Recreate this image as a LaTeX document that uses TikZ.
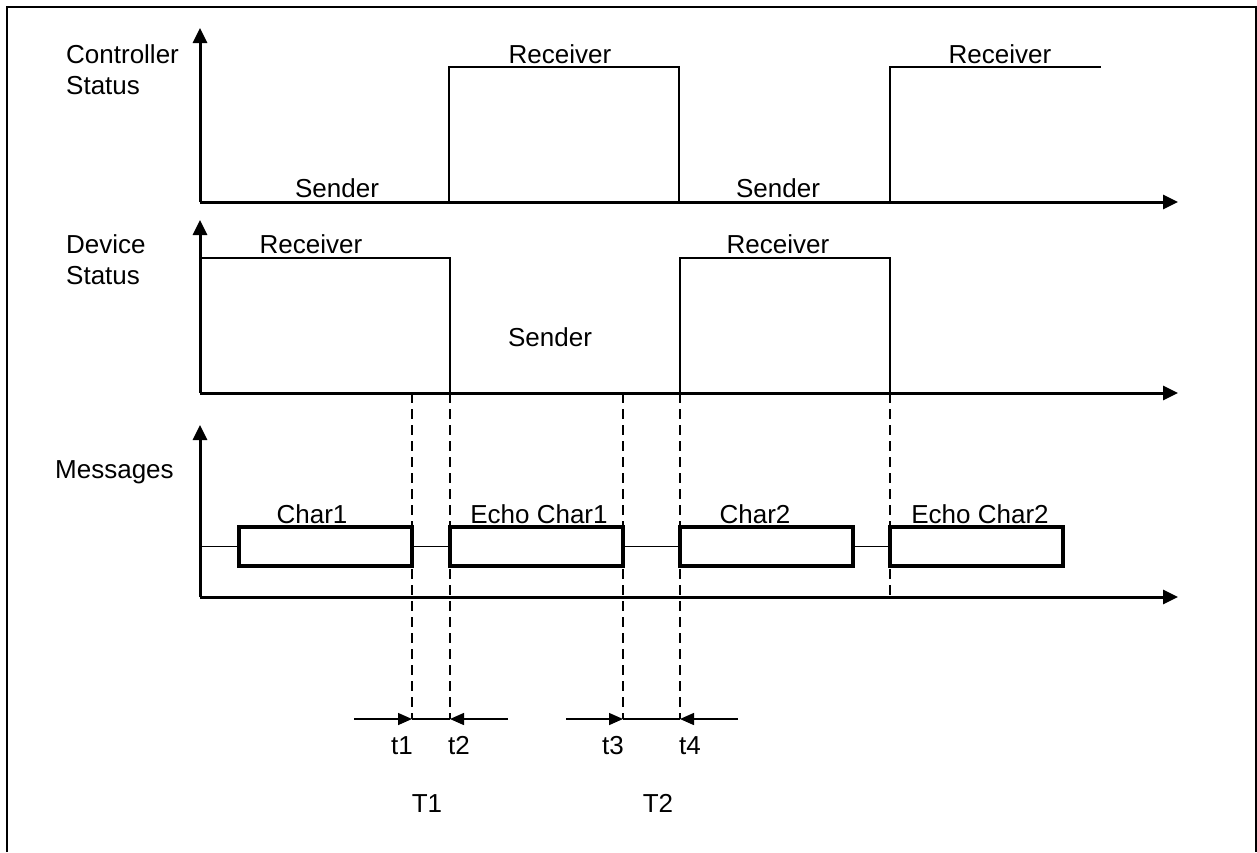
\documentclass[tikz,border=0pt]{standalone}
\usepackage{fontspec}
\setmainfont{Liberation Sans}
\usetikzlibrary{arrows.meta}
\begin{document}
\begin{tikzpicture}[x=1pt,y=-1pt,
  lbl/.style={font=\fontsize{26}{30}\selectfont, inner sep=0pt, anchor=base},
  lblw/.style={font=\fontsize{26}{30}\selectfont, inner sep=0pt, anchor=base west},
  axis/.style={line width=3pt, -{Triangle[length=15pt,width=14pt]}},
  sig/.style={line width=2pt},
  msgbox/.style={draw, line width=3.5pt, minimum width=173pt, minimum height=39pt, inner sep=0pt, outer sep=0pt, anchor=north west},
  thin/.style={line width=1.5pt},
  guide/.style={line width=1.5pt, dash pattern=on 10pt off 6pt},
  tarrow/.style={line width=1.5pt, -{Triangle[length=14pt,width=12pt]}},
  frame/.style={line width=2pt}
]
\useasboundingbox (0,0) rectangle (1257,852);
% frame
\draw[frame] (7,852) -- (7,7) -- (1256,7) -- (1256,852);

% ---------- coordinates ----------
\coordinate (cO) at (200,202);
\coordinate (cY) at (200,28);
\coordinate (cX) at (1178,202);
\coordinate (dO) at (200,393);
\coordinate (dY) at (200,220);
\coordinate (dX) at (1178,393);
\coordinate (mO) at (200,597);
\coordinate (mY) at (200,425);
\coordinate (mX) at (1178,597);

% ---------- controller ----------
\draw[sig] (cO) -- (449,202) -- (449,67) -- (679,67) -- (679,202) -- (890,202) -- (890,67) -- (1101,67);
\draw[axis] (cO) -- (cY);
\draw[axis] (cO) -- (cX);
\node[lblw] (cl1) at (66,63) {Controller};
\node[lblw] (cl2) at (66,94) {Status};
\node[lbl] (cs1) at (337,197) {Sender};
\node[lbl] (cr1) at (560,63) {Receiver};
\node[lbl] (cs2) at (778,197) {Sender};
\node[lbl] (cr2) at (1000,63) {Receiver};

% ---------- device ----------
\draw[sig] (200,258) -- (450,258) -- (450,393) -- (680,393) -- (680,258) -- (890,258) -- (890,393);
\draw[axis] (dO) -- (dY);
\draw[axis] (dO) -- (dX);
\node[lblw] (dl1) at (66,253) {Device};
\node[lblw] (dl2) at (66,284) {Status};
\node[lbl] (dr1) at (311,253) {Receiver};
\node[lbl] (ds1) at (550,346) {Sender};
\node[lbl] (dr2) at (778,253) {Receiver};

% ---------- messages ----------
\node[msgbox] (b1) at (239,527) {};
\node[msgbox] (b2) at (450,527) {};
\node[msgbox] (b3) at (680,527) {};
\node[msgbox] (b4) at (890,527) {};
\draw[thin] (b1.west -| mO) -- (b1.west);
\draw[thin] (b1.east) -- (b2.west);
\draw[thin] (b2.east) -- (b3.west);
\draw[thin] (b3.east) -- (b4.west);
\draw[axis] (mO) -- (mY);
\draw[axis] (mO) -- (mX);
\node[lblw] (ml) at (55,478) {Messages};
\node[lbl] (n1) at (312,523) {Char1};
\node[lbl] (n2) at (539,523) {Echo Char1};
\node[lbl] (n3) at (755,523) {Char2};
\node[lbl] (n4) at (980,523) {Echo Char2};

% ---------- guides ----------
\coordinate (g1t) at (412,393); \coordinate (g1b) at (412,719);
\coordinate (g2t) at (450,393); \coordinate (g2b) at (450,719);
\coordinate (g3t) at (623,393); \coordinate (g3b) at (623,719);
\coordinate (g4t) at (680,393); \coordinate (g4b) at (680,719);
\coordinate (g5t) at (890,393); \coordinate (g5b) at (890,597);
\draw[guide] (g1t) -- (g1b);
\draw[guide] (g2t) -- (g2b);
\draw[guide] (g3t) -- (g3b);
\draw[guide] (g4t) -- (g4b);
\draw[guide] (g5t) -- (g5b);

% ---------- interval arrows ----------
\coordinate (a1s) at (354,719);
\coordinate (a2s) at (508,719);
\coordinate (a3s) at (566,719);
\coordinate (a4s) at (738,719);
\draw[tarrow] (a1s) -- (g1b);
\draw[thin] (g1b) -- (g2b);
\draw[tarrow] (a2s) -- (g2b);
\draw[tarrow] (a3s) -- (g3b);
\draw[thin] (g3b) -- (g4b);
\draw[tarrow] (a4s) -- (g4b);
\node[lbl] (t1) at (402,754) {t1};
\node[lbl] (t2) at (459,754) {t2};
\node[lbl] (t3) at (613,754) {t3};
\node[lbl] (t4) at (690,754) {t4};
\node[lbl] (T1) at (427,812) {T1};
\node[lbl] (T2) at (658,812) {T2};
\end{tikzpicture}
\end{document}
